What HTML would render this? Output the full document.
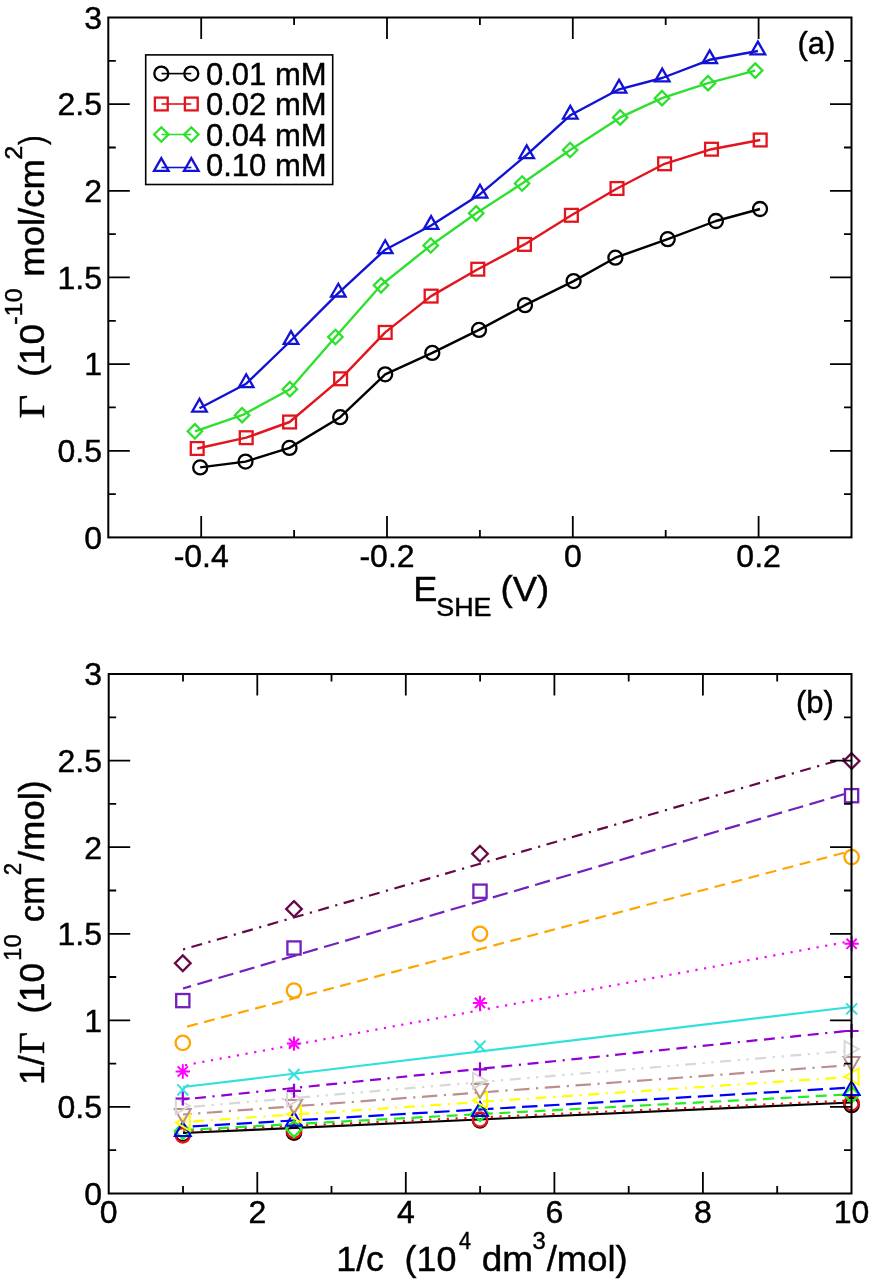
<!DOCTYPE html>
<html><head><meta charset="utf-8"><style>
html,body{margin:0;padding:0;background:#fff;width:870px;height:1280px;overflow:hidden}
svg{display:block;filter:blur(0.4px)}
text{font-family:"Liberation Sans",sans-serif;fill:#000;white-space:pre;stroke:#000;stroke-width:0.45px}
</style></head><body>
<svg width="870" height="1280" viewBox="0 0 870 1280">
<text x="102" y="548.7" font-size="32" text-anchor="end">0</text>
<text x="102" y="1204.8" font-size="32" text-anchor="end">0</text>
<text x="102" y="462.1" font-size="32" text-anchor="end">0.5</text>
<text x="102" y="1118.2" font-size="32" text-anchor="end">0.5</text>
<text x="102" y="375.4" font-size="32" text-anchor="end">1</text>
<text x="102" y="1031.6" font-size="32" text-anchor="end">1</text>
<text x="102" y="288.8" font-size="32" text-anchor="end">1.5</text>
<text x="102" y="945" font-size="32" text-anchor="end">1.5</text>
<text x="102" y="202.1" font-size="32" text-anchor="end">2</text>
<text x="102" y="858.5" font-size="32" text-anchor="end">2</text>
<text x="102" y="115.4" font-size="32" text-anchor="end">2.5</text>
<text x="102" y="771.9" font-size="32" text-anchor="end">2.5</text>
<text x="102" y="28.8" font-size="32" text-anchor="end">3</text>
<text x="102" y="685.3" font-size="32" text-anchor="end">3</text>
<text x="201.2" y="566.5" font-size="32" text-anchor="middle">-0.4</text>
<text x="387" y="566.5" font-size="32" text-anchor="middle">-0.2</text>
<text x="572.8" y="566.5" font-size="32" text-anchor="middle">0</text>
<text x="758.6" y="566.5" font-size="32" text-anchor="middle">0.2</text>
<text x="108.7" y="1223" font-size="32" text-anchor="middle">0</text>
<text x="257.3" y="1223" font-size="32" text-anchor="middle">2</text>
<text x="405.8" y="1223" font-size="32" text-anchor="middle">4</text>
<text x="554.4" y="1223" font-size="32" text-anchor="middle">6</text>
<text x="702.9" y="1223" font-size="32" text-anchor="middle">8</text>
<text x="851.5" y="1223" font-size="32" text-anchor="middle">10</text>
<polyline points="200.2,467.4 245.5,461.6 289.5,447.9 340.2,417.2 385.2,374.3 432.3,352.9 479,329.9 525,305.2 573.6,281.1 615.4,257.7 667.7,239.2 715.9,221 760,209" fill="none" stroke="#000" stroke-width="2.4" stroke-linejoin="round"/>
<circle cx="200.2" cy="467.4" r="7" fill="none" stroke="#000" stroke-width="2.3"/>
<circle cx="245.5" cy="461.6" r="7" fill="none" stroke="#000" stroke-width="2.3"/>
<circle cx="289.5" cy="447.9" r="7" fill="none" stroke="#000" stroke-width="2.3"/>
<circle cx="340.2" cy="417.2" r="7" fill="none" stroke="#000" stroke-width="2.3"/>
<circle cx="385.2" cy="374.3" r="7" fill="none" stroke="#000" stroke-width="2.3"/>
<circle cx="432.3" cy="352.9" r="7" fill="none" stroke="#000" stroke-width="2.3"/>
<circle cx="479" cy="329.9" r="7" fill="none" stroke="#000" stroke-width="2.3"/>
<circle cx="525" cy="305.2" r="7" fill="none" stroke="#000" stroke-width="2.3"/>
<circle cx="573.6" cy="281.1" r="7" fill="none" stroke="#000" stroke-width="2.3"/>
<circle cx="615.4" cy="257.7" r="7" fill="none" stroke="#000" stroke-width="2.3"/>
<circle cx="667.7" cy="239.2" r="7" fill="none" stroke="#000" stroke-width="2.3"/>
<circle cx="715.9" cy="221" r="7" fill="none" stroke="#000" stroke-width="2.3"/>
<circle cx="760" cy="209" r="7" fill="none" stroke="#000" stroke-width="2.3"/>
<polyline points="197.2,448.5 246.2,437.7 289.6,422 340.6,378.8 385.2,332.4 431.1,296.1 477.8,269.2 524.5,244.4 571.4,215.3 617,188.5 664.6,163.8 711.5,149.2 760.2,140" fill="none" stroke="#e2141e" stroke-width="2.4" stroke-linejoin="round"/>
<rect x="190.8" y="442.1" width="12.8" height="12.8" fill="none" stroke="#e2141e" stroke-width="2.3"/>
<rect x="239.8" y="431.3" width="12.8" height="12.8" fill="none" stroke="#e2141e" stroke-width="2.3"/>
<rect x="283.2" y="415.6" width="12.8" height="12.8" fill="none" stroke="#e2141e" stroke-width="2.3"/>
<rect x="334.2" y="372.4" width="12.8" height="12.8" fill="none" stroke="#e2141e" stroke-width="2.3"/>
<rect x="378.8" y="326" width="12.8" height="12.8" fill="none" stroke="#e2141e" stroke-width="2.3"/>
<rect x="424.7" y="289.7" width="12.8" height="12.8" fill="none" stroke="#e2141e" stroke-width="2.3"/>
<rect x="471.4" y="262.8" width="12.8" height="12.8" fill="none" stroke="#e2141e" stroke-width="2.3"/>
<rect x="518.1" y="238" width="12.8" height="12.8" fill="none" stroke="#e2141e" stroke-width="2.3"/>
<rect x="565" y="208.9" width="12.8" height="12.8" fill="none" stroke="#e2141e" stroke-width="2.3"/>
<rect x="610.6" y="182.1" width="12.8" height="12.8" fill="none" stroke="#e2141e" stroke-width="2.3"/>
<rect x="658.2" y="157.4" width="12.8" height="12.8" fill="none" stroke="#e2141e" stroke-width="2.3"/>
<rect x="705.1" y="142.8" width="12.8" height="12.8" fill="none" stroke="#e2141e" stroke-width="2.3"/>
<rect x="753.8" y="133.6" width="12.8" height="12.8" fill="none" stroke="#e2141e" stroke-width="2.3"/>
<polyline points="194.9,431.3 242.1,415.2 289.9,389.2 335.4,337 381,285.3 430.7,245.5 476.2,213.3 522.1,183.5 570.1,150 620.2,117.4 662,98.2 708,83.2 755.2,70.6" fill="none" stroke="#2ee02e" stroke-width="2.4" stroke-linejoin="round"/>
<path d="M194.9 424.1L202.1 431.3L194.9 438.5L187.7 431.3Z" fill="none" stroke="#2ee02e" stroke-width="2.3"/>
<path d="M242.1 408L249.3 415.2L242.1 422.4L234.9 415.2Z" fill="none" stroke="#2ee02e" stroke-width="2.3"/>
<path d="M289.9 382L297.1 389.2L289.9 396.4L282.7 389.2Z" fill="none" stroke="#2ee02e" stroke-width="2.3"/>
<path d="M335.4 329.8L342.6 337L335.4 344.2L328.2 337Z" fill="none" stroke="#2ee02e" stroke-width="2.3"/>
<path d="M381 278.1L388.2 285.3L381 292.5L373.8 285.3Z" fill="none" stroke="#2ee02e" stroke-width="2.3"/>
<path d="M430.7 238.3L437.9 245.5L430.7 252.7L423.5 245.5Z" fill="none" stroke="#2ee02e" stroke-width="2.3"/>
<path d="M476.2 206.1L483.4 213.3L476.2 220.5L469 213.3Z" fill="none" stroke="#2ee02e" stroke-width="2.3"/>
<path d="M522.1 176.3L529.3 183.5L522.1 190.7L514.9 183.5Z" fill="none" stroke="#2ee02e" stroke-width="2.3"/>
<path d="M570.1 142.8L577.3 150L570.1 157.2L562.9 150Z" fill="none" stroke="#2ee02e" stroke-width="2.3"/>
<path d="M620.2 110.2L627.4 117.4L620.2 124.6L613 117.4Z" fill="none" stroke="#2ee02e" stroke-width="2.3"/>
<path d="M662 91L669.2 98.2L662 105.4L654.8 98.2Z" fill="none" stroke="#2ee02e" stroke-width="2.3"/>
<path d="M708 76L715.2 83.2L708 90.4L700.8 83.2Z" fill="none" stroke="#2ee02e" stroke-width="2.3"/>
<path d="M755.2 63.4L762.4 70.6L755.2 77.8L748 70.6Z" fill="none" stroke="#2ee02e" stroke-width="2.3"/>
<polyline points="199.5,408.3 246.2,383.7 291,340.5 338.3,293.1 385.2,249.7 431.1,225.5 480,194.2 526.7,154.8 570.3,115.3 619.1,89.3 662.2,78 709.7,59.8 757.9,51" fill="none" stroke="#1212d6" stroke-width="2.4" stroke-linejoin="round"/>
<path d="M199.5 398.9L206.8 411.7L192.2 411.7Z" fill="none" stroke="#1212d6" stroke-width="2.3" stroke-linejoin="miter"/>
<path d="M246.2 374.3L253.5 387.1L238.9 387.1Z" fill="none" stroke="#1212d6" stroke-width="2.3" stroke-linejoin="miter"/>
<path d="M291 331.1L298.3 343.9L283.7 343.9Z" fill="none" stroke="#1212d6" stroke-width="2.3" stroke-linejoin="miter"/>
<path d="M338.3 283.7L345.6 296.5L331 296.5Z" fill="none" stroke="#1212d6" stroke-width="2.3" stroke-linejoin="miter"/>
<path d="M385.2 240.3L392.5 253.1L377.9 253.1Z" fill="none" stroke="#1212d6" stroke-width="2.3" stroke-linejoin="miter"/>
<path d="M431.1 216.1L438.4 228.9L423.8 228.9Z" fill="none" stroke="#1212d6" stroke-width="2.3" stroke-linejoin="miter"/>
<path d="M480 184.8L487.3 197.6L472.7 197.6Z" fill="none" stroke="#1212d6" stroke-width="2.3" stroke-linejoin="miter"/>
<path d="M526.7 145.4L534 158.2L519.4 158.2Z" fill="none" stroke="#1212d6" stroke-width="2.3" stroke-linejoin="miter"/>
<path d="M570.3 105.9L577.6 118.7L563 118.7Z" fill="none" stroke="#1212d6" stroke-width="2.3" stroke-linejoin="miter"/>
<path d="M619.1 79.9L626.4 92.7L611.8 92.7Z" fill="none" stroke="#1212d6" stroke-width="2.3" stroke-linejoin="miter"/>
<path d="M662.2 68.6L669.5 81.4L654.9 81.4Z" fill="none" stroke="#1212d6" stroke-width="2.3" stroke-linejoin="miter"/>
<path d="M709.7 50.4L717 63.2L702.4 63.2Z" fill="none" stroke="#1212d6" stroke-width="2.3" stroke-linejoin="miter"/>
<path d="M757.9 41.6L765.2 54.4L750.6 54.4Z" fill="none" stroke="#1212d6" stroke-width="2.3" stroke-linejoin="miter"/>
<rect x="145.7" y="54.9" width="187" height="129.6" fill="none" stroke="#000" stroke-width="1.6"/>
<path d="M161.5 73.6H191.3" stroke="#000" stroke-width="1.6"/>
<circle cx="161.3" cy="73.6" r="7" fill="none" stroke="#000" stroke-width="2.3"/>
<circle cx="191.3" cy="73.6" r="7" fill="none" stroke="#000" stroke-width="2.3"/>
<text x="206" y="84.6" font-size="31" text-anchor="start">0.01 mM</text>
<path d="M161.5 104H191.3" stroke="#e2141e" stroke-width="1.6"/>
<rect x="154.9" y="97.6" width="12.8" height="12.8" fill="none" stroke="#e2141e" stroke-width="2.3"/>
<rect x="184.9" y="97.6" width="12.8" height="12.8" fill="none" stroke="#e2141e" stroke-width="2.3"/>
<text x="206" y="115" font-size="31" text-anchor="start">0.02 mM</text>
<path d="M161.5 134.5H191.3" stroke="#2ee02e" stroke-width="1.6"/>
<path d="M161.3 127.3L168.5 134.5L161.3 141.7L154.1 134.5Z" fill="none" stroke="#2ee02e" stroke-width="2.3"/>
<path d="M191.3 127.3L198.5 134.5L191.3 141.7L184.1 134.5Z" fill="none" stroke="#2ee02e" stroke-width="2.3"/>
<text x="206" y="145.5" font-size="31" text-anchor="start">0.04 mM</text>
<path d="M161.5 167.5H191.3" stroke="#1212d6" stroke-width="1.6"/>
<path d="M161.3 158.1L168.6 170.9L154 170.9Z" fill="none" stroke="#1212d6" stroke-width="2.3" stroke-linejoin="miter"/>
<path d="M191.3 158.1L198.6 170.9L184 170.9Z" fill="none" stroke="#1212d6" stroke-width="2.3" stroke-linejoin="miter"/>
<text x="206" y="175.5" font-size="31" text-anchor="start">0.10 mM</text>
<text x="797.5" y="54" font-size="31" text-anchor="start">(a)</text>
<text x="796" y="712.8" font-size="31" text-anchor="start">(b)</text>
<text transform="translate(44.2 418.47) rotate(-90) scale(1.172 1)" font-size="35" style="font-family:'Liberation Serif',serif">&#915;</text>
<text transform="translate(44.2 377.09) rotate(-90) scale(1.047 1)" font-size="35">(10</text>
<text transform="translate(21.6 324.80) rotate(-90) scale(1.100 1)" font-size="23">-10</text>
<text transform="translate(44.2 276.79) rotate(-90) scale(1.044 1)" font-size="35">mol/cm</text>
<text transform="translate(22.0 159.85) rotate(-90) scale(1.105 1)" font-size="23">2</text>
<text transform="translate(44.2 145.03) rotate(-90) scale(0.833 1)" font-size="35">)</text>
<text transform="translate(43.5 1084.95) rotate(-90) scale(1.015 1)" font-size="35">1/</text>
<text transform="translate(43.5 1053.98) rotate(-90) scale(1.078 1)" font-size="35" style="font-family:'Liberation Serif',serif">&#915;</text>
<text transform="translate(43.5 1013.60) rotate(-90) scale(1.002 1)" font-size="35">(10</text>
<text transform="translate(20.8 960.78) rotate(-90) scale(1.039 1)" font-size="23">10</text>
<text transform="translate(43.5 922.24) rotate(-90) scale(0.988 1)" font-size="35">cm</text>
<text transform="translate(20.5 875.37) rotate(-90) scale(0.968 1)" font-size="23">2</text>
<text transform="translate(43.5 861.00) rotate(-90) scale(1.041 1)" font-size="35">/mol)</text>
<text transform="translate(413.31 601.4) scale(1.032 1)" font-size="35">E</text>
<text transform="translate(436.23 615.6) scale(1.034 1)" font-size="26">SHE</text>
<text transform="translate(500.51 601.4) scale(1.044 1)" font-size="35">(V)</text>
<text transform="translate(336.23 1270.8) scale(1.023 1)" font-size="35">1/c</text>
<text transform="translate(404.55 1270.8) scale(1.026 1)" font-size="35">(10</text>
<text transform="translate(459.06 1249.2) scale(0.936 1)" font-size="23">4</text>
<text transform="translate(481.64 1270.8) scale(1.056 1)" font-size="35">dm</text>
<text transform="translate(532.46 1249.1) scale(1.036 1)" font-size="23">3</text>
<text transform="translate(546.70 1270.8) scale(1.041 1)" font-size="35">/mol)</text>
<path d="M183.0 1133.0L851.5 1102.5" stroke="#000000" stroke-width="2.2" fill="none"/>
<path d="M183.0 1131.0L851.5 1100.5" stroke="#ee1111" stroke-width="2.2" fill="none" stroke-dasharray="2.2,6.6" stroke-dashoffset="0"/>
<path d="M183.0 1130.0L851.5 1094.3" stroke="#22ee22" stroke-width="2.2" fill="none" stroke-dasharray="11,6.6" stroke-dashoffset="0"/>
<path d="M183.0 1127.0L851.5 1087.5" stroke="#0000ff" stroke-width="2.2" fill="none" stroke-dasharray="15.4,6.6" stroke-dashoffset="-9.7"/>
<path d="M183.0 1122.0L851.5 1076.8" stroke="#ffff00" stroke-width="2.2" fill="none" stroke-dasharray="2.2,6.6,11,6.6" stroke-dashoffset="-1.4"/>
<path d="M183.0 1114.5L851.5 1065.0" stroke="#bc8f8f" stroke-width="2.2" fill="none" stroke-dasharray="2.2,6.6,15.4,6.6" stroke-dashoffset="-15.2"/>
<path d="M183.0 1107.5L851.5 1050.5" stroke="#d8d8d8" stroke-width="2.2" fill="none" stroke-dasharray="2.2,6.6,11,6.6,2.2,6.6" stroke-dashoffset="-2.3"/>
<path d="M183.0 1099.5L851.5 1030.5" stroke="#9400d3" stroke-width="2.2" fill="none" stroke-dasharray="11,6.6,2.2,6.6,11,6.6" stroke-dashoffset="-12"/>
<path d="M183.0 1087.0L851.5 1007.0" stroke="#30e0dc" stroke-width="2.2" fill="none"/>
<path d="M183.0 1065.6L851.5 941.0" stroke="#ff00ff" stroke-width="2.2" fill="none" stroke-dasharray="2.2,6.6" stroke-dashoffset="-2"/>
<path d="M183.0 1027.7L851.5 850.8" stroke="#ffa500" stroke-width="2.2" fill="none" stroke-dasharray="11,6.6" stroke-dashoffset="-4.2"/>
<path d="M183.0 988.5L851.5 792.0" stroke="#7221bc" stroke-width="2.2" fill="none" stroke-dasharray="15.4,6.6" stroke-dashoffset="7"/>
<path d="M183.0 949.5L851.5 756.5" stroke="#670748" stroke-width="2.2" fill="none" stroke-dasharray="2.2,6.6,11,6.6" stroke-dashoffset="0"/>
<circle cx="182.8" cy="1134" r="7.2" fill="none" stroke="#000000" stroke-width="2.3"/>
<circle cx="294" cy="1132.6" r="7.2" fill="none" stroke="#000000" stroke-width="2.3"/>
<circle cx="480" cy="1120.3" r="7.2" fill="none" stroke="#000000" stroke-width="2.3"/>
<circle cx="851.6" cy="1105" r="7.2" fill="none" stroke="#000000" stroke-width="2.3"/>
<circle cx="182.8" cy="1135.3" r="7.2" fill="none" stroke="#ee1111" stroke-width="2.3"/>
<circle cx="294" cy="1130.8" r="7.2" fill="none" stroke="#ee1111" stroke-width="2.3"/>
<circle cx="480" cy="1119.5" r="7.2" fill="none" stroke="#ee1111" stroke-width="2.3"/>
<circle cx="851.6" cy="1103.1" r="7.2" fill="none" stroke="#ee1111" stroke-width="2.3"/>
<path d="M182.8 1123.2L190.6 1131L182.8 1138.8L175 1131Z" fill="none" stroke="#22ee22" stroke-width="2.3"/>
<path d="M294 1121.2L301.8 1129L294 1136.8L286.2 1129Z" fill="none" stroke="#22ee22" stroke-width="2.3"/>
<path d="M480 1105.3L487.8 1113.1L480 1120.9L472.2 1113.1Z" fill="none" stroke="#22ee22" stroke-width="2.3"/>
<path d="M851.6 1086.9L859.4 1094.7L851.6 1102.5L843.8 1094.7Z" fill="none" stroke="#22ee22" stroke-width="2.3"/>
<path d="M182.8 1122L190.8 1136L174.8 1136Z" stroke="#0000ff" stroke-width="2" fill="none"/>
<path d="M294 1111.8L302 1125.8L286 1125.8Z" stroke="#0000ff" stroke-width="2" fill="none"/>
<path d="M480 1102L488 1116L472 1116Z" stroke="#0000ff" stroke-width="2" fill="none"/>
<path d="M851.6 1081L859.6 1095L843.6 1095Z" stroke="#0000ff" stroke-width="2" fill="none"/>
<path d="M175.8 1122.6L189.8 1114.6L189.8 1130.6Z" stroke="#ffff00" stroke-width="2" fill="none"/>
<path d="M287 1114.3L301 1106.3L301 1122.3Z" stroke="#ffff00" stroke-width="2" fill="none"/>
<path d="M473 1100.2L487 1092.2L487 1108.2Z" stroke="#ffff00" stroke-width="2" fill="none"/>
<path d="M844.6 1076.5L858.6 1068.5L858.6 1084.5Z" stroke="#ffff00" stroke-width="2" fill="none"/>
<path d="M182.8 1123L190.8 1109L174.8 1109Z" stroke="#bc8f8f" stroke-width="2" fill="none"/>
<path d="M294 1113.9L302 1099.9L286 1099.9Z" stroke="#bc8f8f" stroke-width="2" fill="none"/>
<path d="M480 1098L488 1084L472 1084Z" stroke="#bc8f8f" stroke-width="2" fill="none"/>
<path d="M851.6 1071L859.6 1057L843.6 1057Z" stroke="#bc8f8f" stroke-width="2" fill="none"/>
<path d="M189.8 1106L175.8 1098L175.8 1114Z" stroke="#d8d8d8" stroke-width="2" fill="none"/>
<path d="M301 1098.6L287 1090.6L287 1106.6Z" stroke="#d8d8d8" stroke-width="2" fill="none"/>
<path d="M487 1080.9L473 1072.9L473 1088.9Z" stroke="#d8d8d8" stroke-width="2" fill="none"/>
<path d="M858.6 1049L844.6 1041L844.6 1057Z" stroke="#d8d8d8" stroke-width="2" fill="none"/>
<path d="M175.8 1098.5H189.8M182.8 1091.5V1105.5" stroke="#9400d3" stroke-width="2.2" fill="none"/>
<path d="M287 1090.8H301M294 1083.8V1097.8" stroke="#9400d3" stroke-width="2.2" fill="none"/>
<path d="M473 1069.3H487M480 1062.3V1076.3" stroke="#9400d3" stroke-width="2.2" fill="none"/>
<path d="M844.6 1031H858.6M851.6 1024V1038" stroke="#9400d3" stroke-width="2.2" fill="none"/>
<path d="M177.3 1084.4L188.3 1095.4M177.3 1095.4L188.3 1084.4" stroke="#30e0dc" stroke-width="2" fill="none"/>
<path d="M288.5 1069L299.5 1080M288.5 1080L299.5 1069" stroke="#30e0dc" stroke-width="2" fill="none"/>
<path d="M474.5 1040.8L485.5 1051.8M474.5 1051.8L485.5 1040.8" stroke="#30e0dc" stroke-width="2" fill="none"/>
<path d="M846.1 1003.4L857.1 1014.4M846.1 1014.4L857.1 1003.4" stroke="#30e0dc" stroke-width="2" fill="none"/>
<path d="M175.6 1071.5L190 1071.5M177.7 1066.4L187.9 1076.6M182.8 1064.3L182.8 1078.7M187.9 1066.4L177.7 1076.6" stroke="#ff00ff" stroke-width="2" fill="none"/>
<path d="M286.8 1043.6L301.2 1043.6M288.9 1038.5L299.1 1048.7M294 1036.4L294 1050.8M299.1 1038.5L288.9 1048.7" stroke="#ff00ff" stroke-width="2" fill="none"/>
<path d="M472.8 1002.9L487.2 1002.9M474.9 997.8L485.1 1008M480 995.7L480 1010.1M485.1 997.8L474.9 1008" stroke="#ff00ff" stroke-width="2" fill="none"/>
<path d="M844.4 943.8L858.8 943.8M846.5 938.7L856.7 948.9M851.6 936.6L851.6 951M856.7 938.7L846.5 948.9" stroke="#ff00ff" stroke-width="2" fill="none"/>
<circle cx="182.8" cy="1042.9" r="7.2" fill="none" stroke="#ffa500" stroke-width="2.3"/>
<circle cx="294" cy="990.5" r="7.2" fill="none" stroke="#ffa500" stroke-width="2.3"/>
<circle cx="480" cy="933.8" r="7.2" fill="none" stroke="#ffa500" stroke-width="2.3"/>
<circle cx="851.6" cy="857.1" r="7.2" fill="none" stroke="#ffa500" stroke-width="2.3"/>
<rect x="176.2" y="994" width="13.2" height="13.2" fill="none" stroke="#7221bc" stroke-width="2.3"/>
<rect x="287.4" y="941.4" width="13.2" height="13.2" fill="none" stroke="#7221bc" stroke-width="2.3"/>
<rect x="473.4" y="884.6" width="13.2" height="13.2" fill="none" stroke="#7221bc" stroke-width="2.3"/>
<rect x="845" y="789.1" width="13.2" height="13.2" fill="none" stroke="#7221bc" stroke-width="2.3"/>
<path d="M182.8 955.4L190.6 963.2L182.8 971L175 963.2Z" fill="none" stroke="#670748" stroke-width="2.3"/>
<path d="M294 901.1L301.8 908.9L294 916.7L286.2 908.9Z" fill="none" stroke="#670748" stroke-width="2.3"/>
<path d="M480 846L487.8 853.8L480 861.5L472.2 853.8Z" fill="none" stroke="#670748" stroke-width="2.3"/>
<path d="M851.6 753.2L859.4 761L851.6 768.8L843.8 761Z" fill="none" stroke="#670748" stroke-width="2.3"/>
<path d="M201.2 537.4v-21.5M201.2 17.5v21.5M387 537.4v-21.5M387 17.5v21.5M572.8 537.4v-21.5M572.8 17.5v21.5M758.6 537.4v-21.5M758.6 17.5v21.5M294.1 537.4v-7.5M294.1 17.5v7.5M479.9 537.4v-7.5M479.9 17.5v7.5M665.7 537.4v-7.5M665.7 17.5v7.5M108.3 450.8h21.5M851.5 450.8h-21.5M108.3 364.1h21.5M851.5 364.1h-21.5M108.3 277.4h21.5M851.5 277.4h-21.5M108.3 190.8h21.5M851.5 190.8h-21.5M108.3 104.1h21.5M851.5 104.1h-21.5M108.3 494.1h7.5M851.5 494.1h-7.5M108.3 407.4h7.5M851.5 407.4h-7.5M108.3 320.8h7.5M851.5 320.8h-7.5M108.3 234.1h7.5M851.5 234.1h-7.5M108.3 147.5h7.5M851.5 147.5h-7.5M108.3 60.8h7.5M851.5 60.8h-7.5" stroke="#000" stroke-width="1.8" fill="none"/>
<rect x="108.3" y="17.5" width="743.2" height="519.9" fill="none" stroke="#000" stroke-width="2"/>
<path d="M257.3 1193.5v-21.5M257.3 674v21.5M405.8 1193.5v-21.5M405.8 674v21.5M554.4 1193.5v-21.5M554.4 674v21.5M702.9 1193.5v-21.5M702.9 674v21.5M183 1193.5v-7.5M183 674v7.5M331.5 1193.5v-7.5M331.5 674v7.5M480.1 1193.5v-7.5M480.1 674v7.5M628.7 1193.5v-7.5M628.7 674v7.5M777.2 1193.5v-7.5M777.2 674v7.5M108.7 1106.9h21.5M851.5 1106.9h-21.5M108.7 1020.3h21.5M851.5 1020.3h-21.5M108.7 933.8h21.5M851.5 933.8h-21.5M108.7 847.2h21.5M851.5 847.2h-21.5M108.7 760.6h21.5M851.5 760.6h-21.5M108.7 1150.2h7.5M851.5 1150.2h-7.5M108.7 1063.6h7.5M851.5 1063.6h-7.5M108.7 977h7.5M851.5 977h-7.5M108.7 890.5h7.5M851.5 890.5h-7.5M108.7 803.9h7.5M851.5 803.9h-7.5M108.7 717.3h7.5M851.5 717.3h-7.5" stroke="#000" stroke-width="1.8" fill="none"/>
<rect x="108.7" y="674" width="742.8" height="519.5" fill="none" stroke="#000" stroke-width="2"/>
</svg>
</body></html>
